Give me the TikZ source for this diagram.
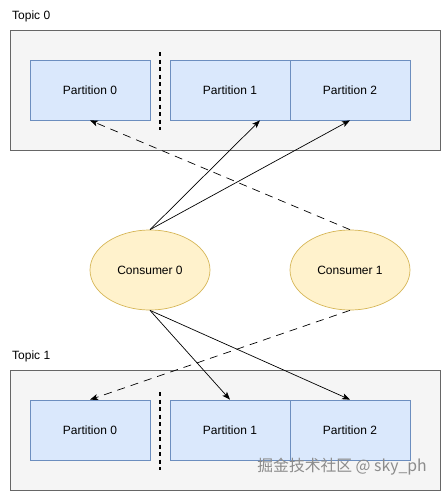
\documentclass[tikz,border=0pt]{standalone}
\usepackage{fontspec}
\setmainfont{Liberation Sans}
\newfontfamily\cjk{Noto Sans CJK SC}
\usetikzlibrary{arrows.meta,shapes.geometric}
\definecolor{topicfill}{HTML}{F5F5F5}
\definecolor{topicdraw}{HTML}{666666}
\definecolor{partfill}{HTML}{DAE8FC}
\definecolor{partdraw}{HTML}{6C8EBF}
\definecolor{consfill}{HTML}{FFF2CC}
\definecolor{consdraw}{HTML}{D6B656}
\definecolor{wmark}{HTML}{8C8C8C}
\tikzset{
  topicbox/.style={draw=topicdraw, fill=topicfill, line width=0.8pt, minimum width=430pt, minimum height=120pt, inner sep=0pt},
  partbox/.style={draw=partdraw, fill=partfill, line width=0.7pt, minimum width=120pt, minimum height=60pt, inner sep=0pt, font=\fontsize{12}{14}\selectfont},
  consnode/.style={ellipse, draw=consdraw, fill=consfill, line width=0.7pt, minimum width=120pt, minimum height=80pt, inner sep=0pt, font=\fontsize{12}{14}\selectfont},
  topiclabel/.style={anchor=west, inner sep=0pt, font=\fontsize{12}{14}\selectfont},
  divider/.style={line width=2pt, dash pattern=on 4pt off 3.5pt},
  solidarrow/.style={line width=0.7pt, -{Stealth[length=8pt,width=6pt,inset=2pt]}},
  dasharrow/.style={line width=0.7pt, dash pattern=on 8pt off 6pt, -{Stealth[length=8pt,width=6pt,inset=2pt]}},
}
\begin{document}
\begin{tikzpicture}[x=1pt,y=-1pt]
\useasboundingbox (0,0) rectangle (441,491);
% Topic 0
\node[topiclabel] (t0label) at (12,16) {Topic 0};
\node[topicbox] (t0) at (225,90) {};
\node[partbox] (a0) at (90,90) {Partition 0};
\node[partbox] (a1) at (230,90) {Partition 1};
\node[partbox] (a2) at (350,90) {Partition 2};
\coordinate (d0a) at (160,52);
\coordinate (d0b) at (160,130);
\draw[divider] (d0a) -- (d0b);
% Topic 1
\node[topiclabel] (t1label) at (12,356) {Topic 1};
\node[topicbox] (t1) at (225,430) {};
\node[partbox] (b0) at (90,430) {Partition 0};
\node[partbox] (b1) at (230,430) {Partition 1};
\node[partbox] (b2) at (350,430) {Partition 2};
\coordinate (d1a) at (160,392);
\coordinate (d1b) at (160,470);
\draw[divider] (d1a) -- (d1b);
% Consumers
\node[consnode] (c0) at (150,270) {Consumer 0};
\node[consnode] (c1) at (350,270) {Consumer 1};
% connectors
\coordinate (a1t) at ([xshift=30pt]a1.south);
\coordinate (b1t) at (b1.north);
\draw[solidarrow] (c0.north) -- (a1t);
\draw[solidarrow] (c0.north) -- (a2.south);
\draw[dasharrow] (c1.north) -- (a0.south);
\draw[solidarrow] (c0.south) -- (b1t);
\draw[solidarrow] (c0.south) -- (b2.north);
\draw[dasharrow] (c1.south) -- (b0.north);
% watermark
\node[anchor=east, inner sep=0pt, text=wmark, font=\cjk\fontsize{15.8}{18}\selectfont] (wm) at (427,467) {掘金技术社区 @ sky\_ph};
\end{tikzpicture}
\end{document}
